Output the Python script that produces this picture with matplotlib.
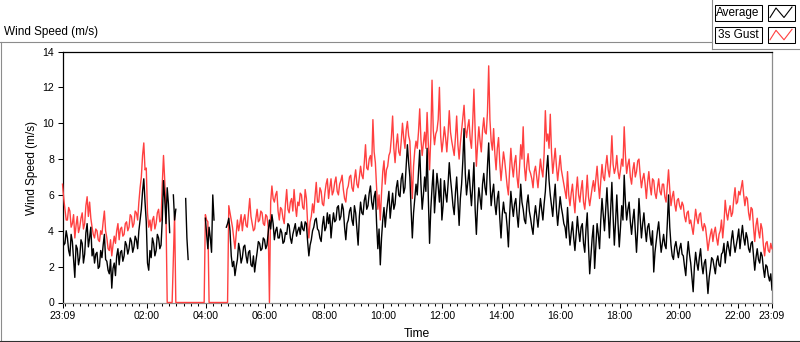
import numpy as np
import pandas as pd
import matplotlib
matplotlib.use("Agg")
import matplotlib.pyplot as plt
import matplotlib.dates as mdates
from matplotlib.ticker import FixedLocator
from matplotlib.patches import Rectangle

plt.rcParams['font.family'] = ['Liberation Sans', 'DejaVu Sans']

# ---------------------------
# Data (2.5 minute samples from 23:09)
# ---------------------------
nan = float('nan')
start_time = pd.Timestamp('2015-06-01 23:09')
step = '150s'

avg_speed = [
    4.1, 3.2, 3.3, 4.0, 3.6, 2.9, 2.6, 3.8, 3.4, 2.4, 1.4, 3.2,
    3.0, 2.1, 2.5, 3.5, 3.3, 2.2, 2.7, 3.9, 4.4, 3.1, 3.6, 4.2,
    2.6, 3.0, 2.2, 2.7, 2.8, 1.9, 2.0, 2.9, 2.5, 3.2, 3.8, 2.4,
    2.3, 1.8, 1.6, 2.4, 0.8, 1.9, 2.2, 1.5, 2.6, 3.0, 2.1, 2.8,
    2.9, 2.3, 2.6, 3.4, 3.2, 2.7, 3.0, 3.6, 3.4, 2.8, 3.1, 3.7,
    3.5, 3.0, 4.0, 4.6, 5.2, 6.2, 6.9, 5.6, 4.5, 2.2, 1.8, 2.9,
    2.5, 3.6, 3.3, 2.6, 2.9, 3.8, 3.6, 3.0, 3.2, 4.6, 6.8, 5.8,
    4.4, 6.4, 5.5, 3.9, nan, nan, 6.0, 4.6, 5.2, nan, nan, nan,
    nan, nan, nan, nan, 5.8, 3.6, 2.4, nan, nan, nan, nan, nan,
    nan, nan, nan, nan, nan, nan, nan, nan, 4.7, 3.8, 3.0, 4.2,
    3.6, 2.8, 6.0, 4.6, nan, nan, nan, nan, nan, nan, nan, nan,
    nan, 4.2, 4.4, 4.7, 4.0, 2.6, 2.0, 2.3, 1.5, 2.0, 2.4, 3.3,
    2.9, 2.2, 2.5, 3.1, 3.2, 2.6, 2.2, 2.8, 2.9, 2.1, 2.0, 2.6,
    1.7, 2.3, 2.8, 3.4, 3.3, 2.9, 3.0, 3.6, 3.5, 3.0, 3.2, 3.9,
    4.6, 4.1, 4.9, 4.4, 3.5, 4.0, 4.2, 3.6, 3.6, 4.1, 3.9, 3.3,
    3.4, 3.9, 3.8, 4.4, 4.3, 3.6, 3.3, 3.8, 4.1, 4.4, 3.7, 4.0,
    4.2, 3.8, 4.5, 4.1, 4.0, 4.5, 4.4, 3.4, 2.6, 3.2, 3.5, 4.0,
    4.2, 4.6, 4.7, 4.1, 4.0, 3.6, 3.4, 4.3, 4.8, 4.0, 4.2, 5.0,
    4.4, 4.9, 3.6, 4.4, 5.0, 4.5, 4.6, 5.3, 5.4, 4.6, 4.8, 5.5,
    5.2, 4.2, 3.5, 4.4, 4.6, 5.1, 5.3, 4.6, 4.3, 5.4, 5.0, 4.1,
    3.2, 4.8, 5.6, 5.0, 4.9, 5.7, 6.0, 5.2, 5.4, 6.1, 6.5, 5.6,
    5.2, 5.9, 6.2, 4.4, 3.0, 4.1, 2.1, 3.6, 4.6, 5.3, 4.2, 5.0,
    5.6, 6.2, 4.7, 5.4, 6.1, 5.2, 5.5, 6.4, 6.8, 6.0, 5.9, 6.9,
    7.2, 6.1, 6.4, 7.6, 8.8, 7.8, 7.0, 5.2, 3.6, 5.0, 5.8, 6.6,
    6.0, 7.2, 8.5, 6.6, 5.2, 6.0, 7.0, 6.2, 8.6, 5.8, 3.3, 5.2,
    6.4, 7.4, 5.0, 6.1, 7.2, 6.5, 5.6, 6.9, 4.6, 5.4, 6.8, 6.1,
    5.6, 6.6, 7.8, 6.9, 6.2, 5.4, 4.9, 6.1, 7.0, 5.6, 4.3, 5.8,
    6.6, 7.9, 9.7, 7.2, 6.0, 6.7, 7.4, 6.3, 5.4, 6.5, 7.8, 5.2,
    3.8, 5.4, 6.4, 5.8, 5.2, 6.6, 7.2, 6.4, 6.0, 7.6, 8.9, 6.8,
    5.4, 6.1, 6.6, 5.5, 4.9, 5.8, 6.2, 4.7, 3.6, 4.9, 5.6, 5.0,
    5.0, 4.2, 3.1, 4.9, 6.2, 5.4, 4.8, 5.5, 5.8, 4.9, 4.2, 5.3,
    6.6, 5.6, 5.2, 4.6, 4.4, 5.5, 6.0, 5.1, 4.7, 4.2, 3.8, 4.8,
    5.4, 4.8, 4.2, 5.0, 5.8, 5.2, 4.6, 5.5, 6.2, 7.4, 8.2, 6.8,
    6.0, 5.4, 4.8, 5.8, 6.6, 5.2, 4.3, 5.1, 5.9, 5.3, 4.9, 4.4,
    4.2, 3.6, 5.3, 4.1, 3.2, 3.9, 4.5, 3.6, 2.9, 3.8, 4.8, 4.0,
    3.4, 4.2, 4.4, 3.3, 2.8, 4.1, 5.0, 3.2, 1.6, 2.6, 3.6, 4.3,
    1.9, 3.2, 4.4, 3.8, 3.0, 4.6, 5.8, 4.9, 4.0, 5.2, 6.4, 5.0,
    3.6, 5.1, 6.7, 4.8, 3.2, 4.5, 6.0, 4.4, 3.1, 4.2, 5.4, 4.6,
    7.1, 5.6, 4.6, 5.2, 5.6, 4.5, 3.8, 4.6, 5.2, 4.0, 2.8, 4.1,
    5.8, 4.7, 3.6, 4.4, 5.0, 4.1, 3.4, 4.2, 4.4, 3.7, 3.2, 4.0,
    1.7, 2.8, 3.4, 4.0, 4.5, 3.6, 2.8, 3.3, 3.8, 3.2, 3.0, 4.4,
    6.0, 4.2, 3.2, 2.6, 2.4, 3.1, 3.4, 2.9, 2.5, 3.0, 3.3, 2.7,
    2.6, 2.0, 1.5, 2.6, 3.4, 2.7, 2.2, 1.4, 0.6, 2.0, 2.8, 2.2,
    1.8, 2.5, 3.0, 2.1, 1.6, 2.2, 2.4, 1.5, 0.5, 1.4, 1.9, 2.5,
    2.4, 2.0, 1.6, 2.3, 2.6, 2.1, 2.0, 2.7, 2.8, 3.3, 2.2, 2.9,
    3.4, 3.0, 2.6, 3.5, 4.0, 3.3, 2.8, 3.2, 3.6, 4.1, 3.0, 3.7,
    4.3, 3.6, 3.2, 3.9, 3.6, 3.0, 2.8, 3.3, 3.4, 2.6, 1.8, 2.5,
    3.0, 2.4, 2.2, 2.8, 2.6, 1.9, 1.4, 2.1, 2.0, 1.5, 1.2, 1.6,
    0.7,
]

gust_speed = [
    6.6, 5.8, 5.2, 4.6, 4.6, 5.3, 5.1, 4.2, 4.4, 4.9, 3.6, 4.3,
    4.8, 3.9, 4.2, 4.7, 5.0, 4.1, 4.4, 5.4, 5.9, 4.8, 5.6, 4.7,
    4.2, 3.8, 3.6, 4.1, 4.0, 3.5, 3.4, 4.0, 3.8, 4.5, 5.1, 4.0,
    3.6, 3.0, 2.9, 3.5, 2.6, 3.2, 3.7, 3.3, 4.0, 4.4, 3.5, 4.1,
    4.2, 3.7, 3.8, 4.4, 4.5, 4.0, 4.2, 4.9, 4.8, 4.2, 4.4, 5.1,
    5.0, 4.6, 5.6, 6.4, 7.0, 8.2, 8.9, 7.4, 7.5, 5.0, 4.2, 4.6,
    4.0, 4.6, 4.8, 4.1, 4.4, 5.0, 5.2, 4.5, 4.6, 6.6, 8.2, 6.8,
    5.0, 0.0, 0.0, 0.0, 0.0, 0.0, 2.5, 4.9, 0.0, 0.0, 0.0, 0.0,
    0.0, 0.0, 0.0, 0.0, 0.0, 0.0, 0.0, 0.0, 0.0, 0.0, 0.0, 0.0,
    0.0, 0.0, 0.0, 0.0, 0.0, 0.0, 0.0, 0.0, 4.9, 4.6, 4.5, 0.0,
    0.0, 0.0, 0.0, 0.0, 0.0, 0.0, 0.0, 0.0, 0.0, 0.0, 0.0, 0.0,
    0.0, 0.0, 0.0, 5.4, 5.0, 4.6, 4.2, 3.6, 3.0, 3.8, 4.6, 4.0,
    4.4, 4.9, 4.0, 4.6, 4.9, 4.3, 4.2, 5.0, 5.8, 4.8, 4.4, 4.0,
    4.1, 4.7, 5.2, 4.5, 4.6, 5.1, 5.0, 4.4, 4.3, 4.9, 4.8, 4.2,
    0.0, 5.6, 6.5, 5.8, 5.6, 6.0, 6.2, 5.1, 4.6, 5.3, 5.2, 4.7,
    4.4, 5.5, 6.3, 5.2, 5.0, 5.6, 5.8, 5.1, 6.3, 5.4, 4.8, 5.6,
    5.4, 6.1, 6.0, 5.3, 5.2, 6.3, 5.8, 4.4, 3.6, 4.5, 4.8, 5.5,
    5.0, 5.9, 6.7, 5.6, 5.6, 6.4, 6.2, 5.5, 5.4, 6.1, 6.6, 6.9,
    5.8, 6.4, 6.9, 6.0, 6.2, 6.7, 7.0, 6.2, 6.0, 6.6, 6.8, 7.1,
    6.3, 5.8, 5.6, 6.3, 6.5, 7.0, 7.1, 6.4, 6.2, 6.9, 7.4, 6.6,
    6.4, 7.0, 7.6, 7.1, 6.9, 7.8, 8.8, 7.5, 7.4, 8.0, 8.2, 7.6,
    10.2, 8.4, 7.8, 6.4, 5.2, 6.0, 4.6, 6.1, 7.3, 7.9, 6.6, 7.4,
    7.6, 8.2, 8.4, 9.2, 10.4, 8.6, 7.8, 8.8, 9.4, 8.4, 8.2, 9.0,
    10.0, 9.2, 8.6, 9.6, 10.1, 9.3, 9.0, 7.2, 5.8, 7.6, 8.5, 9.0,
    8.6, 9.5, 10.8, 9.1, 8.2, 8.9, 9.5, 8.6, 10.6, 8.8, 7.4, 9.2,
    12.4, 9.6, 8.8, 9.4, 9.6, 10.2, 12.0, 9.3, 8.4, 9.0, 9.8, 9.2,
    8.4, 9.4, 10.7, 9.5, 9.0, 8.6, 8.2, 9.2, 10.4, 8.8, 8.0, 8.9,
    9.6, 10.3, 11.0, 9.7, 9.2, 9.8, 10.2, 9.1, 8.6, 10.0, 11.9, 9.6,
    7.6, 8.8, 9.8, 9.0, 8.4, 9.6, 10.3, 9.5, 9.4, 10.6, 13.2, 10.2,
    9.0, 8.5, 9.7, 8.3, 7.4, 8.6, 9.2, 7.8, 6.8, 7.6, 8.4, 7.9,
    7.2, 6.5, 6.0, 7.4, 8.6, 7.6, 7.0, 7.8, 8.2, 7.0, 6.4, 7.5,
    8.8, 8.0, 9.8, 7.6, 6.8, 7.7, 8.3, 7.4, 7.2, 6.9, 6.4, 7.3,
    7.6, 7.0, 6.4, 7.2, 8.0, 7.4, 7.0, 8.3, 10.7, 9.0, 9.4, 8.6,
    10.5, 8.4, 7.2, 7.9, 8.6, 7.6, 6.8, 7.5, 8.2, 7.4, 7.0, 6.6,
    6.2, 5.8, 7.3, 6.0, 5.4, 6.1, 6.6, 5.7, 5.0, 6.2, 7.0, 6.0,
    5.6, 6.3, 6.8, 5.6, 5.2, 6.0, 7.1, 5.9, 5.4, 5.9, 6.4, 6.8,
    6.2, 6.9, 7.6, 6.6, 5.8, 6.8, 7.7, 7.0, 6.8, 7.6, 8.2, 7.4,
    7.0, 7.8, 9.3, 7.7, 7.2, 7.5, 8.2, 7.3, 6.9, 7.4, 8.0, 7.6,
    9.8, 8.2, 7.2, 7.7, 8.0, 7.0, 6.6, 7.4, 7.8, 7.0, 7.3, 7.9,
    8.0, 7.1, 6.4, 6.9, 7.2, 6.6, 5.8, 6.7, 7.3, 6.5, 6.0, 6.9,
    6.8, 6.1, 5.8, 6.4, 6.9, 6.2, 6.0, 6.6, 6.6, 5.9, 5.6, 6.5,
    7.4, 6.3, 5.4, 5.9, 6.2, 5.5, 5.1, 5.7, 5.8, 5.4, 5.2, 5.6,
    5.4, 4.8, 4.5, 5.0, 5.1, 4.4, 4.6, 4.2, 3.8, 4.5, 5.2, 4.7,
    4.4, 4.9, 5.0, 4.3, 4.0, 4.4, 4.2, 3.6, 2.9, 3.4, 3.8, 4.1,
    3.4, 3.9, 4.2, 3.6, 3.2, 3.8, 4.0, 4.6, 3.6, 4.4, 5.7, 5.0,
    4.6, 5.1, 5.4, 4.8, 5.0, 5.8, 6.4, 5.5, 5.6, 6.2, 6.0, 6.4,
    6.8, 6.0, 5.4, 5.9, 5.8, 5.0, 4.6, 5.3, 5.2, 4.2, 3.4, 4.3,
    4.7, 4.0, 3.6, 4.4, 4.1, 3.2, 2.6, 3.3, 3.4, 2.9, 2.8, 3.3,
    3.0,
]

y_ticks = [0, 2, 4, 6, 8, 10, 12, 14]
label_hours = [2, 4, 6, 8, 10, 12, 14, 16, 18, 20, 22]
legend_names = ['Average', '3s Gust']
line_colors = ['black', '#ff4040']

times = pd.date_range(start_time, periods=len(avg_speed), freq=step).to_pydatetime()
end_time = start_time + pd.Timedelta(hours=24)

# ---------------------------
# Figure + pixel overlay
# ---------------------------
W, H = 800, 342
fig = plt.figure(figsize=(W / 100, H / 100), dpi=100)

bg = fig.add_axes([0, 0, 1, 1], zorder=0)
bg.set_xlim(0, W)
bg.set_ylim(H, 0)
bg.axis('off')

frame_gray = '#8c8c8c'
bg.plot([0.5, 0.5], [41.5, 341], color=frame_gray, lw=0.8)
bg.plot([0, 711.5], [41.5, 41.5], color=frame_gray, lw=0.8)
bg.plot([0, W], [340.5, 340.5], color='#303030', lw=0.8)
bg.plot([711.5, 711.5], [0, 48.5], color=frame_gray, lw=0.8)
bg.plot([711.5, W], [48.5, 48.5], color=frame_gray, lw=0.8)

bg.text(4, 32, 'Wind Speed (m/s)', fontsize=8.5, ha='left', va='center')
bg.text(32, 168, 'Wind Speed (m/s)', fontsize=8.5, ha='center', va='center',
        rotation=90)
bg.text(417, 334, 'Time', fontsize=8.7, ha='center', va='center')

# legend boxes
for i, (name, col) in enumerate(zip(legend_names, line_colors)):
    y0 = 4.5 + i * 22.3
    bg.add_patch(Rectangle((714.5, y0), 47, 16, facecolor='white',
                           edgecolor='black', lw=0.75))
    bg.add_patch(Rectangle((767.5, y0), 27, 16, facecolor='white',
                           edgecolor='black', lw=0.75))
    bg.text(738, y0 + 8.3, name, fontsize=8.5, ha='center', va='center')
    bg.plot([770, 776, 784, 792], [y0 + 13, y0 + 3.5, y0 + 13, y0 + 2.5],
            color=col, lw=0.8)

# ---------------------------
# Main plot
# ---------------------------
ax = fig.add_axes([62.5 / W, 1 - 302.5 / H, (772 - 62.5) / W, (302.5 - 51.5) / H],
                  zorder=1)
ax.plot(times, gust_speed, color=line_colors[1], lw=1.0, zorder=3, clip_on=False)
ax.plot(times, avg_speed, color=line_colors[0], lw=1.0, zorder=4)

ax.set_xlim(start_time.to_pydatetime(), end_time.to_pydatetime())
ax.set_ylim(0, 14)
ax.set_yticks(y_ticks)

label_times = [start_time.normalize() + pd.Timedelta(days=1, hours=h) for h in label_hours]
major = [start_time] + label_times + [end_time]
ax.xaxis.set_major_locator(FixedLocator(mdates.date2num([t.to_pydatetime() for t in major])))
ax.xaxis.set_major_formatter(mdates.DateFormatter('%H:%M'))
ax.xaxis.set_minor_locator(mdates.MinuteLocator(byminute=[0, 15, 30, 45]))

ax.tick_params(axis='both', which='major', length=3.6, width=0.75,
               color='black', labelsize=7.6, pad=2.5)
ax.tick_params(axis='x', which='minor', length=2.2, width=0.75, color='black')

for side in ['left', 'top']:
    ax.spines[side].set_color('black')
    ax.spines[side].set_linewidth(0.9)
for side in ['right', 'bottom']:
    ax.spines[side].set_color(frame_gray)
    ax.spines[side].set_linewidth(0.9)

fig.savefig('out.png', dpi=100)
